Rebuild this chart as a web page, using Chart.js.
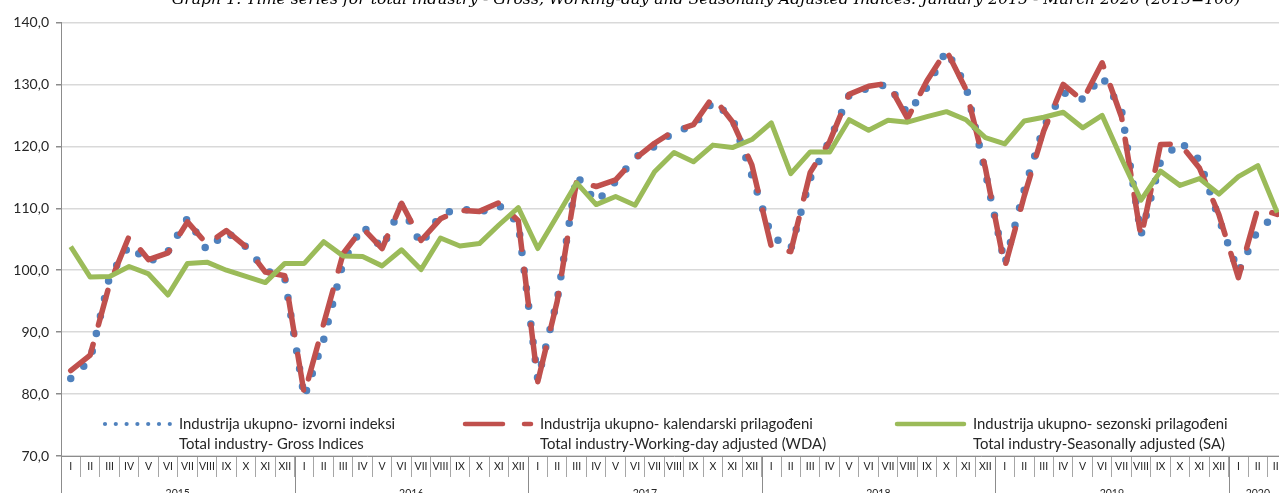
<!DOCTYPE html>
<html>
<head>
<meta charset="utf-8">
<script src="https://cdn.jsdelivr.net/npm/chart.js@4.4.1/dist/chart.umd.min.js"></script>
<style>
  html, body { margin: 0; padding: 0; background: #fff; overflow: hidden; }
  #wrap { position: relative; width: 1279px; height: 493px; overflow: hidden; }
  #chart { position: absolute; left: 0; top: 0; }
</style>
</head>
<body>
<div id="wrap"><canvas id="chart" width="1287" height="493"></canvas></div>
<script>
// ── data (Jan 2015 – Mar 2020, 2015=100) ──────────────────────────
const monthNames = ['I', 'II', 'III', 'IV', 'V', 'VI', 'VII', 'VIII', 'IX', 'X', 'XI', 'XII'];
const years = ['2015', '2016', '2017', '2018', '2019', '2020'];
const monthsIn2020 = 3;

// gross indices (izvorni indeksi)
const gross = [
  82.5, 85.5, 99.0, 104.0, 101.3, 103.0, 108.4, 103.2, 106.2, 103.8, 100.0, 98.7,
  79.5, 88.8, 101.3, 107.2, 103.5, 110.5, 104.1, 109.0, 110.0, 109.3, 110.5, 107.6,
  82.3, 95.2, 115.3, 111.0, 114.3, 118.2, 120.0, 122.3, 123.3, 127.2, 124.6, 115.3,
  105.6, 103.4, 114.8, 121.0, 128.3, 129.4, 130.0, 125.3, 129.5, 135.5, 129.8, 115.8,
  101.0, 113.0, 123.2, 128.7, 127.6, 131.3, 125.8, 105.7, 117.5, 120.8, 117.8, 108.3,
  99.7, 106.5, 109.0
];

// working-day adjusted (kalendarski prilagođeni)
const wda = [
  83.8, 86.3, 97.8, 105.5, 101.7, 102.8, 107.8, 104.2, 106.4, 103.8, 99.7, 99.1,
  80.0, 91.4, 102.7, 106.8, 103.5, 110.8, 104.8, 108.3, 109.7, 109.5, 110.9, 108.0,
  82.0, 95.0, 114.5, 113.5, 114.6, 118.0, 120.5, 122.5, 123.5, 128.0, 124.0, 117.0,
  103.8, 103.0, 115.8, 120.8, 128.4, 129.7, 130.2, 124.5, 130.6, 135.5, 129.2, 116.5,
  100.5, 112.0, 122.5, 130.0, 127.4, 133.5, 124.7, 105.3, 120.3, 120.4, 116.5, 109.0,
  98.8, 110.0, 109.0
];

// seasonally adjusted (sezonski prilagođeni)
const sa = [
  103.8, 98.9, 99.0, 100.6, 99.4, 96.0, 101.1, 101.3, 100.0, 99.0, 98.0, 101.1,
  101.1, 104.6, 102.3, 102.2, 100.7, 103.3, 100.1, 105.2, 103.9, 104.3, 107.3, 110.1,
  103.5, 108.8, 114.1, 110.6, 111.9, 110.5, 115.9, 119.0, 117.5, 120.2, 119.8, 121.1,
  123.8, 115.6, 119.1, 119.1, 124.3, 122.6, 124.2, 123.9, 124.8, 125.6, 124.3, 121.4,
  120.4, 124.1, 124.7, 125.5, 123.0, 125.0, 118.0, 111.3, 116.0, 113.7, 114.8, 112.3,
  115.1, 116.9, 109.3
];

const legendItems = [
  { sr: 'Industrija ukupno- izvorni indeksi', en: 'Total industry- Gross Indices' },
  { sr: 'Industrija ukupno- kalendarski prilagođeni', en: 'Total industry-Working-day adjusted (WDA)' },
  { sr: 'Industrija ukupno- sezonski prilagođeni', en: 'Total industry-Seasonally adjusted (SA)' }
];

const titleText = 'Graph 1. Time series for total industry - Gross, Working-day and Seasonally Adjusted Indices: January 2015 - March 2020 (2015=100)';

// category labels: roman month numerals for every month in the range
const labels = [];
years.forEach((y, k) => {
  const n = k === years.length - 1 ? monthsIn2020 : 12;
  for (let m = 0; m < n; m++) labels.push(monthNames[m]);
});

const BLUE = '#4f81bd';
const RED = '#c0504d';
const GREEN = '#9bbb59';
const AXIS = '#8c8c8c';
const FONT = "Lato, 'Liberation Sans', sans-serif";

Chart.defaults.font.family = FONT;
Chart.defaults.color = '#262626';

// ── title (clipped at the top edge, as in the source image) ──
const titlePlugin = {
  id: 'cutTitle',
  afterDraw(chart) {
    const ctx = chart.ctx;
    ctx.save();
    ctx.font = "italic 15.7px 'DejaVu Serif'";
    ctx.fillStyle = '#000';
    ctx.textAlign = 'center';
    ctx.textBaseline = 'alphabetic';
    ctx.fillText(titleText, 706, 4);
    ctx.restore();
  }
};

// ── second label row: years + long separators ──
const yearRowPlugin = {
  id: 'yearRow',
  afterDraw(chart) {
    const xs = chart.scales.x;
    const ctx = chart.ctx;
    const half = (xs.getPixelForValue(1) - xs.getPixelForValue(0)) / 2;
    ctx.save();
    ctx.strokeStyle = AXIS;
    ctx.lineWidth = 1;
    ctx.fillStyle = '#262626';
    ctx.font = '10.5px ' + FONT;
    ctx.textAlign = 'center';
    ctx.textBaseline = 'middle';
    let start = 0;
    years.forEach((y, k) => {
      const n = k === years.length - 1 ? monthsIn2020 : 12;
      const x0 = Math.round(xs.getPixelForValue(start) - half) + 0.5;
      ctx.beginPath();
      ctx.moveTo(x0, xs.top);
      ctx.lineTo(x0, chart.height);
      ctx.stroke();
      const cx = (xs.getPixelForValue(start) + xs.getPixelForValue(start + n - 1)) / 2;
      ctx.fillText(y, cx, xs.top + 38);
      start += n;
    });
    ctx.restore();
  }
};

// ── legend inside the plot, two text lines per entry ──
const legendPlugin = {
  id: 'twoLineLegend',
  afterDraw(chart) {
    const ctx = chart.ctx;
    const area = chart.chartArea;
    const y1 = area.bottom - 32;
    const y2 = area.bottom - 12;
    const textX = [179, 540, 973];
    ctx.save();

    // gross: small dots
    ctx.fillStyle = BLUE;
    for (let i = 0; i < 7; i++) {
      ctx.beginPath();
      ctx.arc(105 + i * 10.8, y1, 2.1, 0, Math.PI * 2);
      ctx.fill();
    }
    // wda: long dash + short dash
    ctx.strokeStyle = RED;
    ctx.lineWidth = 4.5;
    ctx.lineCap = 'round';
    ctx.beginPath();
    ctx.moveTo(465, y1);
    ctx.lineTo(503, y1);
    ctx.stroke();
    ctx.beginPath();
    ctx.moveTo(524, y1);
    ctx.lineTo(531, y1);
    ctx.stroke();
    // sa: solid
    ctx.strokeStyle = GREEN;
    ctx.beginPath();
    ctx.moveTo(897, y1);
    ctx.lineTo(964, y1);
    ctx.stroke();

    ctx.fillStyle = '#262626';
    ctx.font = '14.9px ' + FONT;
    ctx.textAlign = 'left';
    ctx.textBaseline = 'middle';
    legendItems.forEach((it, i) => {
      ctx.fillText(it.sr, textX[i], y1);
      ctx.fillText(it.en, textX[i], y2);
    });
    ctx.restore();
  }
};

new Chart(document.getElementById('chart'), {
  type: 'line',
  data: {
    labels: labels,
    datasets: [
      {
        label: legendItems[0].sr,
        data: gross,
        borderColor: BLUE,
        borderWidth: 7.5,
        borderDash: [0, 18],
        borderCapStyle: 'round',
        borderJoinStyle: 'round',
        pointRadius: 0,
        tension: 0,
        order: 3
      },
      {
        label: legendItems[1].sr,
        data: wda,
        borderColor: RED,
        borderWidth: 5.5,
        borderDash: [36, 20],
        borderCapStyle: 'round',
        borderJoinStyle: 'round',
        pointRadius: 0,
        tension: 0,
        order: 2
      },
      {
        label: legendItems[2].sr,
        data: sa,
        borderColor: GREEN,
        borderWidth: 5,
        borderJoinStyle: 'round',
        pointRadius: 0,
        tension: 0,
        order: 1
      }
    ]
  },
  options: {
    responsive: false,
    devicePixelRatio: 1,
    animation: false,
    layout: { padding: { top: 22.5, left: 0, right: 0, bottom: 0 } },
    plugins: {
      legend: { display: false },
      tooltip: { enabled: false },
      title: { display: false }
    },
    scales: {
      x: {
        type: 'category',
        offset: true,
        afterFit: (s) => { s.height = 37; },
        border: { color: AXIS, width: 1 },
        grid: {
          offset: true,
          drawOnChartArea: false,
          tickLength: 21,
          color: '#a6a6a6'
        },
        ticks: {
          autoSkip: false,
          maxRotation: 0,
          minRotation: 0,
          padding: -17,
          color: '#262626',
          font: { size: 10.5 }
        }
      },
      y: {
        min: 70,
        max: 140,
        afterFit: (s) => { s.width = 61; },
        border: { color: AXIS, width: 1 },
        grid: {
          color: '#d9d9d9',
          lineWidth: 1.5,
          tickColor: AXIS,
          tickLength: 5
        },
        ticks: {
          stepSize: 10,
          padding: 7,
          color: '#262626',
          font: { size: 14 },
          callback: (v) => v.toFixed(1).replace('.', ',')
        }
      }
    }
  },
  plugins: [titlePlugin, yearRowPlugin, legendPlugin]
});
</script>
</body>
</html>
